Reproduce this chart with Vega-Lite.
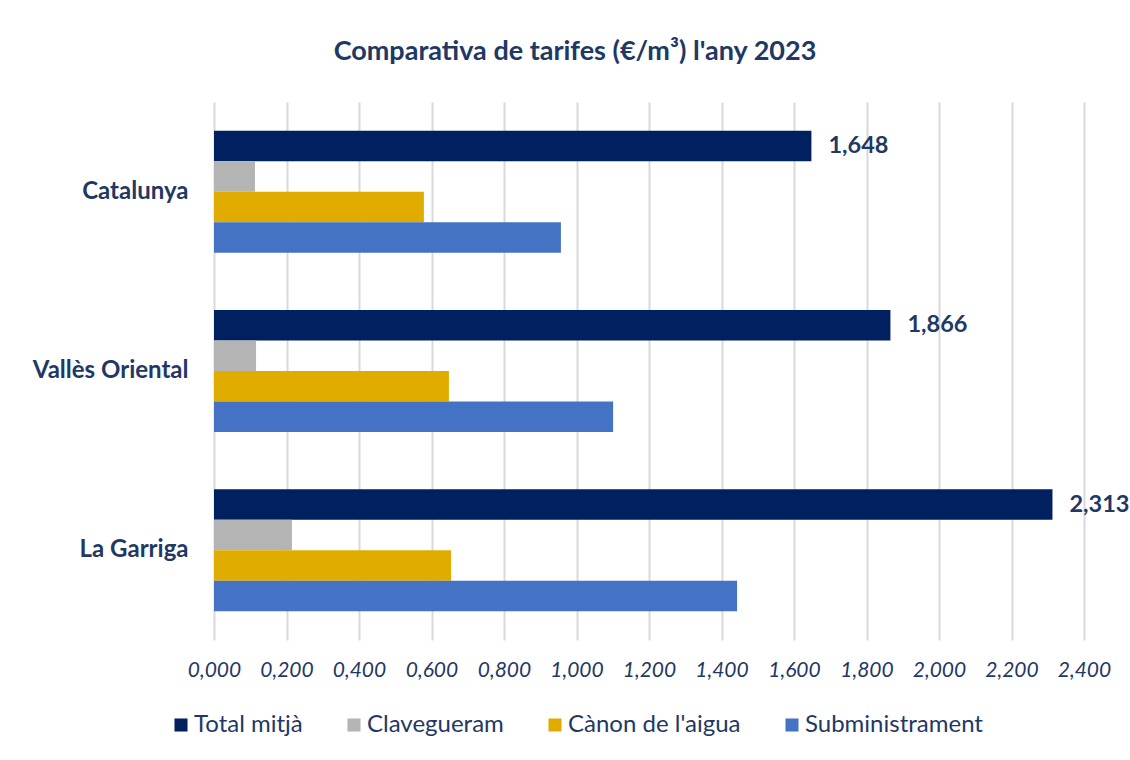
{
  "$schema": "https://vega.github.io/schema/vega-lite/v6.json",
  "width": 870,
  "height": 538,
  "autosize": {"type": "none"},
  "padding": {"left": 214, "top": 102, "right": 46, "bottom": 120},
  "background": "white",
  "config": {
    "locale": {"number": {"decimal": ",", "thousands": ".", "grouping": [3], "currency": ["", "€"]}},
    "view": {"stroke": null},
    "font": "Lato"
  },
  "title": {
    "text": "Comparativa de tarifes (€/m³) l'any 2023",
    "fontSize": 27,
    "fontWeight": "bold",
    "color": "#203864",
    "anchor": "middle",
    "dx": -74,
    "offset": 36
  },
  "data": {
    "values": [
      {"zona": "Catalunya", "serie": "Total mitjà", "valor": 1.648},
      {"zona": "Catalunya", "serie": "Clavegueram", "valor": 0.113},
      {"zona": "Catalunya", "serie": "Cànon de l'aigua", "valor": 0.579},
      {"zona": "Catalunya", "serie": "Subministrament", "valor": 0.957},
      {"zona": "Vallès Oriental", "serie": "Total mitjà", "valor": 1.866},
      {"zona": "Vallès Oriental", "serie": "Clavegueram", "valor": 0.116},
      {"zona": "Vallès Oriental", "serie": "Cànon de l'aigua", "valor": 0.648},
      {"zona": "Vallès Oriental", "serie": "Subministrament", "valor": 1.101},
      {"zona": "La Garriga", "serie": "Total mitjà", "valor": 2.313},
      {"zona": "La Garriga", "serie": "Clavegueram", "valor": 0.215},
      {"zona": "La Garriga", "serie": "Cànon de l'aigua", "valor": 0.654},
      {"zona": "La Garriga", "serie": "Subministrament", "valor": 1.443}
    ]
  },
  "encoding": {
    "y": {
      "field": "zona",
      "type": "nominal",
      "sort": ["Catalunya", "Vallès Oriental", "La Garriga"],
      "scale": {"paddingInner": 0.32, "paddingOuter": 0.16},
      "axis": {
        "title": null,
        "labelFontSize": 24,
        "labelFontWeight": "bold",
        "labelColor": "#1F3864",
        "domain": false,
        "ticks": false,
        "labelPadding": 26
      }
    },
    "yOffset": {
      "field": "serie",
      "type": "nominal",
      "sort": ["Total mitjà", "Clavegueram", "Cànon de l'aigua", "Subministrament"],
      "scale": {"paddingInner": 0, "paddingOuter": 0}
    },
    "x": {
      "field": "valor",
      "type": "quantitative",
      "scale": {"domain": [0, 2.4], "nice": false},
      "axis": {
        "title": null,
        "values": [0, 0.2, 0.4, 0.6, 0.8, 1.0, 1.2, 1.4, 1.6, 1.8, 2.0, 2.2, 2.4],
        "format": ".3f",
        "labelFontStyle": "italic",
        "labelFontSize": 21,
        "labelColor": "#1F3864",
        "labelFlush": false,
        "labelOverlap": false,
        "gridColor": "#D9D9D9",
        "gridWidth": 2,
        "domain": false,
        "ticks": false,
        "labelPadding": 19
      }
    }
  },
  "layer": [
    {
      "mark": {"type": "bar"},
      "encoding": {
        "color": {
          "field": "serie",
          "type": "nominal",
          "scale": {
            "domain": ["Total mitjà", "Clavegueram", "Cànon de l'aigua", "Subministrament"],
            "range": ["#002060", "#B4B4B4", "#E0AC00", "#4472C4"]
          },
          "legend": {
            "title": null,
            "orient": "none",
            "legendX": -45,
            "legendY": 611,
            "direction": "horizontal",
            "symbolType": "square",
            "symbolSize": 170,
            "symbolStrokeWidth": 0,
            "labelFontSize": 24,
            "labelColor": "#1F3864",
            "labelLimit": 400,
            "columnPadding": 39,
            "labelOffset": 1
          }
        }
      }
    },
    {
      "transform": [{"filter": "datum.serie === 'Total mitjà'"}],
      "mark": {"type": "text", "align": "left", "baseline": "middle", "dx": 17, "fontWeight": "bold", "fontSize": 23.5, "color": "#1F3864"},
      "encoding": {
        "text": {"field": "valor", "type": "quantitative", "format": ".3f"}
      }
    }
  ]
}
